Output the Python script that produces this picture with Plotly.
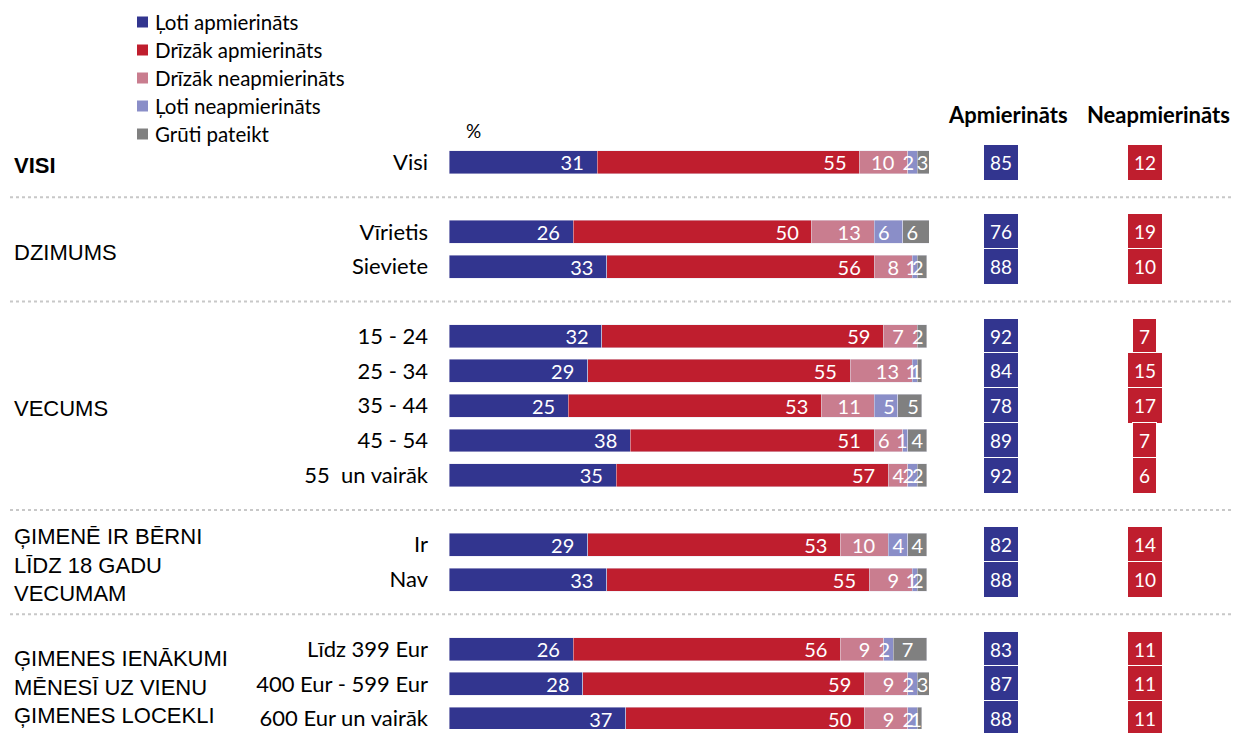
import plotly.graph_objects as go

# ---------------- data ----------------
groups = ["VISI", "DZIMUMS", "VECUMS",
          "ĢIMENĒ IR BĒRNI<br>LĪDZ 18 GADU<br>VECUMAM",
          "ĢIMENES IENĀKUMI<br>MĒNESĪ UZ VIENU<br>ĢIMENES LOCEKLI"]
group_sizes = [1, 2, 5, 2, 3]
categories = ["Visi", "Vīrietis", "Sieviete", "15 - 24", "25 - 34", "35 - 44",
              "45 - 54", "55\u00a0 un vairāk", "Ir", "Nav", "Līdz 399 Eur",
              "400 Eur - 599 Eur", "600 Eur un vairāk"]
series_names = ["Ļoti apmierināts", "Drīzāk apmierināts", "Drīzāk neapmierināts",
                "Ļoti neapmierināts", "Grūti pateikt"]
loti_apm = [31, 26, 33, 32, 29, 25, 38, 35, 29, 33, 26, 28, 37]
drizak_apm = [55, 50, 56, 59, 55, 53, 51, 57, 53, 55, 56, 59, 50]
drizak_neapm = [10, 13, 8, 7, 13, 11, 6, 4, 10, 9, 9, 9, 9]
loti_neapm = [2, 6, 1, 0, 1, 5, 1, 2, 4, 1, 2, 2, 2]
gruti = [3, 6, 2, 2, 1, 5, 4, 2, 4, 2, 7, 3, 1]
apmierinats = [85, 76, 88, 92, 84, 78, 89, 92, 82, 88, 83, 87, 88]
neapmierinats = [12, 19, 10, 7, 15, 17, 7, 6, 14, 10, 11, 11, 11]
colors = ["#32358F", "#BF1E2E", "#C97D8F", "#8A8EC8", "#808080"]
header_left = "Apmierināts"
header_right = "Neapmierināts"

# --------------- positions (rows with one empty row between groups) -------
ypos = []
group_centers = []
separators = []
k = 0
for gi, n in enumerate(group_sizes):
    rows = list(range(k, k + n))
    ypos.extend(rows)
    group_centers.append((rows[0] + rows[-1]) / 2)
    k += n
    if gi < len(group_sizes) - 1:
        separators.append(k)
        k += 1
ymax = ypos[-1]

# --------------- layout geometry ----------------
W, H = 1223, 725
ML, MR, MT, MB = 441, 302, 137, 4
PW, PH = W - ML - MR, H - MT - MB
OFF = 8  # page body margin


def px_x(X):
    return (X - OFF - ML) / PW


def px_y(Y):
    return 1 - (Y - OFF - MT) / PH


CAL = "Lato, 'Open Sans', sans-serif"
ARIAL = "'Liberation Sans', Arial, sans-serif"

fig = go.Figure()
for name, vals, col in zip(series_names,
                           [loti_apm, drizak_apm, drizak_neapm, loti_neapm, gruti],
                           colors):
    txt = [("" if v == 0 else (f"{v}\u00a0\u00a0" if v >= 6 else str(v))) for v in vals]
    fig.add_trace(go.Bar(
        x=vals, y=ypos, orientation="h", name=name, showlegend=False,
        marker=dict(color=col, line=dict(width=0.6, color="rgba(230,230,240,0.8)")),
        text=txt, texttemplate="%{text}", textposition="inside",
        insidetextanchor="end", constraintext="none", textangle=0,
        insidetextfont=dict(color="white", size=20, family=CAL),
        width=0.66, hoverinfo="skip",
    ))

ann = []
shapes = []
# legend (drawn by hand so it can sit in the top-left corner)
for i, (name, col) in enumerate(zip(series_names, colors)):
    yc = 22 + 28 * i
    shapes.append(dict(type="rect", xref="paper", yref="paper",
                       x0=px_x(137), x1=px_x(148), y0=px_y(yc + 5.5), y1=px_y(yc - 5.5),
                       fillcolor=col, line=dict(width=0)))
    ann.append(dict(x=px_x(153), xref="paper", y=px_y(yc), yref="paper", text=name,
                    xanchor="left", yanchor="middle", showarrow=False,
                    font=dict(family=CAL, size=20.5, color="black")))
# group labels
for g, c in zip(groups, group_centers):
    txt = f"<b>{g}</b>" if g == "VISI" else g
    ann.append(dict(x=px_x(12), xref="paper", y=c, yref="y", text=txt,
                    xanchor="left", yanchor="middle", align="left", showarrow=False,
                    yshift=-3, font=dict(family=ARIAL, size=22, color="black")))
# summary boxes
for y, a, n in zip(ypos, apmierinats, neapmierinats):
    ann.append(dict(x=px_x(1001), xref="paper", y=y, yref="y", text=str(a), showarrow=False,
                    xanchor="center", yanchor="middle",
                    bgcolor=colors[0], bordercolor="white", borderwidth=1, borderpad=6,
                    font=dict(family=CAL, size=19, color="white")))
    ann.append(dict(x=px_x(1144.5), xref="paper", y=y, yref="y", text=str(n), showarrow=False,
                    xanchor="center", yanchor="middle",
                    bgcolor=colors[1], bordercolor="white", borderwidth=1, borderpad=6,
                    font=dict(family=CAL, size=19, color="white")))
# headers
ann.append(dict(x=px_x(1007.5), xref="paper", y=px_y(115), yref="paper",
                text=f"<b>{header_left}</b>", xanchor="center", yanchor="middle",
                showarrow=False, font=dict(family=CAL, size=22, color="black")))
ann.append(dict(x=px_x(1158), xref="paper", y=px_y(115), yref="paper",
                text=f"<b>{header_right}</b>", xanchor="center", yanchor="middle",
                showarrow=False, font=dict(family=CAL, size=22, color="black")))
ann.append(dict(x=px_x(473), xref="paper", y=px_y(130), yref="paper", text="%",
                xanchor="center", yanchor="middle",
                showarrow=False, font=dict(family=CAL, size=19, color="black")))

shapes += [dict(type="line", xref="paper", yref="y", x0=px_x(10), x1=px_x(1240), y0=s, y1=s,
                line=dict(color="#C8C8C8", width=2, dash="dot")) for s in separators]

fig.update_layout(
    width=W, height=H, autosize=False,
    margin=dict(l=ML, r=MR, t=MT, b=MB, autoexpand=False),
    barmode="stack",
    plot_bgcolor="white", paper_bgcolor="white",
    font=dict(family=CAL, size=20, color="black"),
    showlegend=False,
    xaxis=dict(range=[0, 100.5], visible=False, fixedrange=True),
    yaxis=dict(range=[ymax + 0.3, -0.5], tickvals=ypos, ticktext=categories,
               showgrid=False, zeroline=False, showline=False, ticks="",
               ticklabelstandoff=20, tickfont=dict(family=CAL, size=22, color="black"),
               fixedrange=True),
    annotations=ann, shapes=shapes,
)

fig.write_html("out.html")
